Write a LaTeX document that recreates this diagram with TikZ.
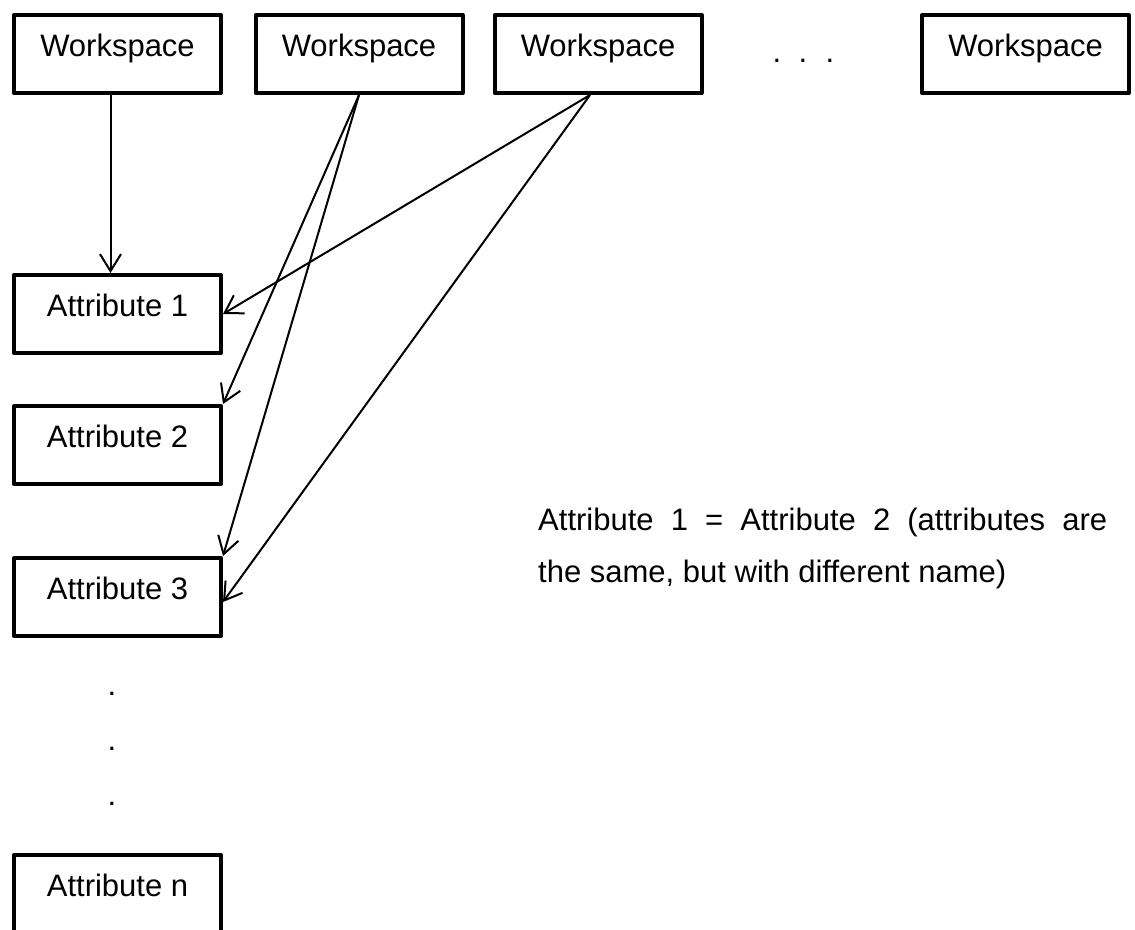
\documentclass[tikz,border=0pt]{standalone}
\usepackage{fontspec}
\setmainfont{Liberation Sans}
\usetikzlibrary{arrows.meta}

\begin{document}
\begin{tikzpicture}[x=1pt,y=-1pt,font=\fontsize{31pt}{52pt}\selectfont,
    box/.style={draw,line width=4pt,line join=round,rectangle,minimum width=207pt,inner sep=0pt,text height=41pt,text depth=37pt},
    arr/.style={->,line width=2pt,>={Straight Barb[length=17pt,width=21pt]}}]
  \useasboundingbox (0,0) rectangle (1135,929);
  \clip (0,0) rectangle (1135,929);

  % workspaces
  \node[box] (ws1) at (117.5,54) {Workspace};
  \node[box] (ws2) at (359,54) {Workspace};
  \node[box] (ws3) at (598,54) {Workspace};
  \node[box] (ws4) at (1025.5,54) {Workspace};
  \foreach \x [count=\i] in {777,803,830} \node[anchor=base] (hdot\i) at (\x,62) {.};

  % attributes
  \node[box] (attr1) at (117.5,314) {Attribute 1};
  \node[box] (attr2) at (117.5,445) {Attribute 2};
  \node[box] (attr3) at (117.5,597) {Attribute 3};
  \node[box] (attrn) at (117.5,894) {Attribute n};
  \foreach \y [count=\i] in {695,750,805} \node[anchor=base] (vdot\i) at (112,\y) {.};

  \draw[arr] ([xshift=-7pt]ws1.south) -- ([xshift=-7pt]attr1.north);
  \draw[arr] (ws2.south) -- (attr2.north east);
  \draw[arr] (ws2.south) -- (attr3.north east);
  \draw[arr] ([xshift=-8pt]ws3.south) -- (attr1.east);
  \draw[arr] ([xshift=-8pt]ws3.south) -- ([yshift=-5pt]attr3.east);

  \node[anchor=base west,align=left,inner sep=0pt] (note) at (538,582) {\makebox[569pt][s]{Attribute 1 = Attribute 2 (attributes are}\\the same, but with different name)};
\end{tikzpicture}
\end{document}
